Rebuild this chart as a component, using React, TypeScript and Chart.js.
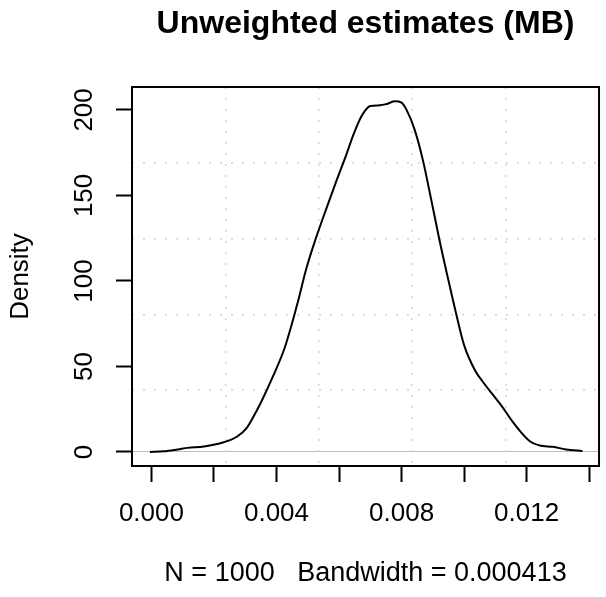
import React, { useEffect, useRef } from 'react';
import { Chart, registerables } from 'chart.js';

Chart.register(...registerables);

// Density estimate
const densityX = [
  -0.00005, 0.0004, 0.00084, 0.00116, 0.00168, 0.00231, 0.00273, 0.00305, 0.00337, 0.003525,
  0.00389, 0.00426, 0.00447, 0.00468, 0.00495, 0.00526, 0.00558, 0.00589, 0.00621, 0.00647,
  0.00674, 0.007, 0.00731, 0.00753, 0.00779, 0.008, 0.00816, 0.00842, 0.00868, 0.00895,
  0.00921, 0.00947, 0.00974, 0.01, 0.01037, 0.01058, 0.011, 0.01121, 0.01158, 0.0121,
  0.01242, 0.01284, 0.01326, 0.01379,
];
const densityY = [
  0, 0.4, 1.5, 2.4, 3.2, 5.7, 8.9, 14.1, 24.3, 29.8,
  44.3, 60.8, 73.5, 87.5, 107, 125, 141.6, 157.2, 172.7, 186,
  197, 202.3, 202.7, 203.5, 205, 204.3, 200, 188.3, 170.8, 147.4,
  124.1, 102.7, 81.3, 62.5, 47, 41.5, 31.6, 26.7, 17, 6.3,
  3.8, 3, 1.5, 0.5,
];

const xTickValues = [0, 0.002, 0.004, 0.006, 0.008, 0.01, 0.012, 0.014];
const xTickLabels = ['0.000', '', '0.004', '', '0.008', '', '0.012', ''];
const yTickValues = [0, 50, 100, 150, 200];
const yTickLabels = ['0', '50', '100', '150', '200'];
const gridSteps = [0, 1, 2, 3, 4, 5];
const xRange = [-0.000622, 0.014316];
const yRange = [-8.2, 213.4];

const titleText = 'Unweighted estimates (MB)';
const xTitle = 'N = 1000   Bandwidth = 0.000413';
const yTitle = 'Density';

export default function App() {
  const ref = useRef<HTMLCanvasElement>(null);

  useEffect(() => {
    const canvas = ref.current;
    if (!canvas) return;
    const family = "'Liberation Sans', Arial, Helvetica, sans-serif";

    const boxPlugin = {
      id: 'plotBox',
      afterDatasetsDraw(chart: any) {
        const { ctx, chartArea: a } = chart;
        ctx.save();
        ctx.strokeStyle = '#000';
        ctx.lineWidth = 2;
        ctx.strokeRect(a.left, a.top, a.right - a.left, a.bottom - a.top);
        ctx.restore();
      },
    };

    const gridColor = '#d3d3d3';

    const chart = new Chart(canvas, {
      type: 'line',
      data: {
        datasets: [
          {
            data: densityX.map((x, i) => ({ x, y: densityY[i] })),
            borderColor: '#000',
            borderWidth: 2,
            pointRadius: 0,
            fill: false,
            cubicInterpolationMode: 'monotone',
            xAxisID: 'x',
            yAxisID: 'y',
          },
        ],
      },
      options: {
        responsive: false,
        maintainAspectRatio: false,
        animation: false,
        layout: { padding: 0 },
        plugins: {
          legend: { display: false },
          title: { display: false },
          tooltip: { enabled: false },
        },
        scales: {
          x: {
            type: 'linear',
            position: 'bottom',
            min: xRange[0],
            max: xRange[1],
            afterBuildTicks: (s: any) => {
              s.ticks = xTickValues.map((v) => ({ value: v }));
            },
            afterFit: (s: any) => {
              s.height = 131;
            },
            ticks: {
              autoSkip: false,
              minRotation: 0,
              maxRotation: 0,
              padding: 16.7,
              color: '#000',
              font: { size: 26, family },
              callback: (_v: any, i: number) => xTickLabels[i],
            },
            grid: {
              drawOnChartArea: false,
              drawTicks: true,
              tickLength: 16,
              tickWidth: 2,
              tickColor: '#000',
            },
            border: { display: true, color: '#000', width: 2 },
            title: {
              display: true,
              text: xTitle,
              color: '#000',
              font: { size: 27, family },
              padding: { top: 0, bottom: 7.2 },
            },
          },
          y: {
            type: 'linear',
            position: 'left',
            min: yRange[0],
            max: yRange[1],
            afterBuildTicks: (s: any) => {
              s.ticks = yTickValues.map((v) => ({ value: v }));
            },
            afterFit: (s: any) => {
              s.width = 132;
            },
            ticks: {
              autoSkip: false,
              minRotation: 90,
              maxRotation: 90,
              crossAlign: 'center',
              padding: 9.3,
              color: '#000',
              font: { size: 26, family },
              callback: (_v: any, i: number) => yTickLabels[i],
            },
            grid: {
              drawOnChartArea: true,
              drawTicks: true,
              tickLength: 16,
              tickWidth: 2,
              tickColor: '#000',
              lineWidth: 1,
              color: (c: any) => (c.tick && c.tick.value === 0 ? '#bebebe' : 'rgba(0,0,0,0)'),
            },
            border: { display: true, color: '#000', width: 2 },
            title: {
              display: true,
              text: yTitle,
              color: '#000',
              font: { size: 26, family },
              padding: { top: 5.4, bottom: 0 },
            },
          },
          x2: {
            type: 'linear',
            position: 'top',
            min: gridSteps[0],
            max: gridSteps[gridSteps.length - 1],
            afterBuildTicks: (s: any) => {
              s.ticks = gridSteps.map((v) => ({ value: v }));
            },
            afterFit: (s: any) => {
              s.height = 87;
            },
            ticks: { display: false },
            grid: {
              drawOnChartArea: true,
              drawTicks: false,
              color: gridColor,
              lineWidth: 1.5,
              borderDash: [2, 9],
            },
            border: { display: false, dash: [2, 9] },
            title: {
              display: true,
              text: titleText,
              color: '#000',
              font: { size: 32, weight: 'bold', family },
              padding: { top: 4.7, bottom: 0 },
            },
          },
          y2: {
            type: 'linear',
            position: 'right',
            min: gridSteps[0],
            max: gridSteps[gridSteps.length - 1],
            afterBuildTicks: (s: any) => {
              s.ticks = gridSteps.map((v) => ({ value: v }));
            },
            afterFit: (s: any) => {
              s.width = 1;
            },
            ticks: { display: false },
            grid: {
              drawOnChartArea: true,
              drawTicks: false,
              color: gridColor,
              lineWidth: 1.5,
              borderDash: [2, 9],
            },
            border: { display: false, dash: [2, 9] },
          },
        },
      },
      plugins: [boxPlugin],
    } as any);

    return () => chart.destroy();
  }, []);

  return (
    <div style={{ position: 'absolute', left: 0, top: 0, width: 606, height: 597, background: '#fff' }}>
      <canvas ref={ref} width={606} height={597} style={{ display: 'block' }} />
    </div>
  );
}
